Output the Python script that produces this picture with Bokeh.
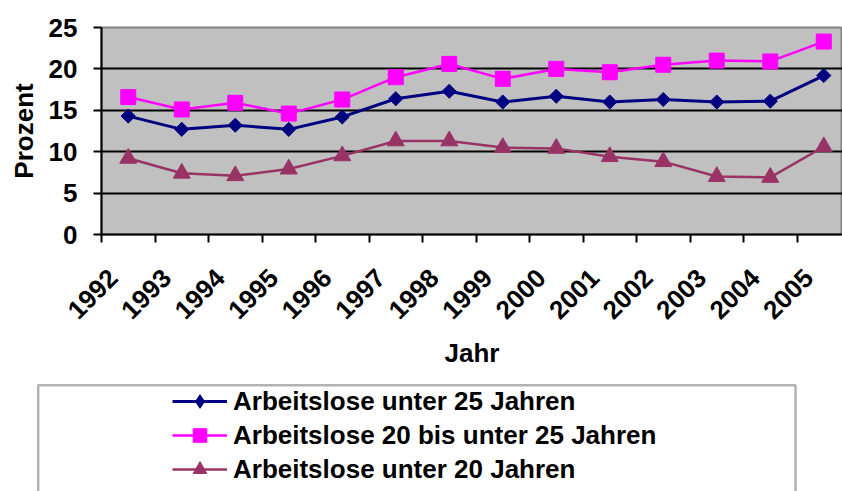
import math
from bokeh.plotting import figure
from bokeh.layouts import column
from bokeh.models import (Range1d, LinearAxis, FixedTicker, Legend, LegendItem,
                          BoxAnnotation)
from bokeh.embed import file_html
from bokeh.resources import INLINE

years = ["1992", "1993", "1994", "1995", "1996", "1997", "1998",
         "1999", "2000", "2001", "2002", "2003", "2004", "2005"]
unter25 = [14.3, 12.7, 13.2, 12.7, 14.2, 16.4, 17.3, 16.0, 16.7, 16.0, 16.3, 16.0, 16.1, 19.2]
von20bis25 = [16.6, 15.1, 15.9, 14.6, 16.3, 19.0, 20.6, 18.8, 20.0, 19.6, 20.5, 21.0, 20.9, 23.3]
unter20 = [9.2, 7.4, 7.1, 7.9, 9.5, 11.3, 11.3, 10.5, 10.4, 9.4, 8.8, 7.0, 6.9, 10.6]
y_ticks = [0, 5, 10, 15, 20, 25]
grid_ticks = [5, 10, 15, 20]
labels = ["Arbeitslose unter 25 Jahren",
          "Arbeitslose 20 bis unter 25 Jahren",
          "Arbeitslose unter 20 Jahren"]

FONT = "Liberation Sans"
FS = "26px"
NAVY = "#000080"
MAGENTA = "#FF00FF"
PLUM = "#993366"
n = len(years)
xs = [i + 0.5 for i in range(n)]
X_END = 13.85
LAB_SHIFT = 0.217

p = figure(width=842, height=380, output_backend="svg", toolbar_location=None,
           x_range=Range1d(0, X_END), y_range=Range1d(0, 25),
           x_axis_location=None,
           min_border_left=101, min_border_right=0, min_border_top=27,
           min_border_bottom=146,
           background_fill_color="#C0C0C0", border_fill_color="white",
           outline_line_color="#808080", outline_line_width=2)
p.frame_align = False

# y axis
ya = p.yaxis[0]
ya.ticker = FixedTicker(ticks=y_ticks)
ya.major_tick_out = 8
ya.major_tick_in = 0
ya.minor_tick_line_color = None
ya.axis_line_width = 2
ya.major_tick_line_width = 2
ya.axis_line_color = "black"
ya.major_tick_line_color = "black"
ya.major_label_text_font = FONT
ya.major_label_text_font_size = FS
ya.major_label_text_font_style = "bold"
ya.major_label_text_color = "black"
ya.major_label_standoff = 16
ya.axis_label = "Prozent"
ya.axis_label_text_font = FONT
ya.axis_label_text_font_size = FS
ya.axis_label_text_font_style = "bold"
ya.axis_label_text_color = "black"
ya.axis_label_standoff = 7

p.ygrid.ticker = FixedTicker(ticks=grid_ticks)
p.ygrid.grid_line_color = "black"
p.ygrid.grid_line_width = 2
p.xgrid.visible = False

# x axis: tick marks at category boundaries
tick_axis = LinearAxis(ticker=FixedTicker(ticks=list(range(n))),
                       major_label_overrides={i: "" for i in range(n)},
                       major_tick_out=8, major_tick_in=0,
                       major_tick_line_width=2, axis_line_width=2,
                       axis_line_color="black", major_tick_line_color="black",
                       minor_tick_line_color=None,
                       major_label_text_font_size="1px",
                       major_label_standoff=0)
p.add_layout(tick_axis, "below")

# x axis: year labels
p.extra_x_ranges = {"labels": Range1d(-LAB_SHIFT, X_END - LAB_SHIFT)}
label_axis = LinearAxis(x_range_name="labels",
                        ticker=FixedTicker(ticks=list(range(n))),
                        major_label_overrides={i: years[i] for i in range(n)},
                        major_label_orientation=math.pi / 4,
                        axis_line_color=None, major_tick_line_color=None,
                        minor_tick_line_color=None,
                        major_tick_out=0, major_tick_in=0,
                        major_label_standoff=31,
                        major_label_text_font=FONT,
                        major_label_text_font_size=FS,
                        major_label_text_font_style="bold",
                        major_label_text_color="black",
                        axis_label="Jahr",
                        axis_label_text_font=FONT,
                        axis_label_text_font_size=FS,
                        axis_label_text_font_style="bold",
                        axis_label_text_color="black",
                        axis_label_standoff=8)
p.add_layout(label_axis, "below")

# series
p.line(xs, unter25, line_color=NAVY, line_width=3)
p.scatter(xs, unter25, marker="square", angle=math.pi / 4, size=10,
          fill_color=NAVY, line_color=NAVY)
p.line(xs, von20bis25, line_color=MAGENTA, line_width=2.5)
p.scatter(xs, von20bis25, marker="square", size=15,
          fill_color=MAGENTA, line_color=MAGENTA)
p.line(xs, unter20, line_color=PLUM, line_width=2.5)
p.scatter(xs, unter20, marker="triangle", size=17,
          fill_color=PLUM, line_color=PLUM)

# legend panel below the chart (its y range lies far above the data, so the
# series renderers here only supply the legend samples)
p2 = figure(width=842, height=111, output_backend="svg", toolbar_location=None,
            x_range=Range1d(0, X_END), y_range=Range1d(100, 101),
            x_axis_location=None, y_axis_location=None,
            min_border_left=0, min_border_right=0, min_border_top=0,
            min_border_bottom=0, outline_line_color=None,
            background_fill_color="white", border_fill_color="white")
p2.frame_align = False
p2.xgrid.visible = False
p2.ygrid.visible = False

box = BoxAnnotation(left=37.7, right=795, top=4.7, bottom=300,
                    left_units="canvas", right_units="canvas",
                    top_units="canvas", bottom_units="canvas",
                    fill_alpha=0, line_color="black", line_width=2.5)
p2.add_layout(box)

g1l = p2.line(xs, unter25, line_color=NAVY, line_width=3)
g1m = p2.scatter(xs, unter25, marker="diamond", size=13,
                 fill_color=NAVY, line_color=NAVY)
g2l = p2.line(xs, von20bis25, line_color=MAGENTA, line_width=2.5)
g2m = p2.scatter(xs, von20bis25, marker="square", size=12,
                 fill_color=MAGENTA, line_color=MAGENTA)
g3l = p2.line(xs, unter20, line_color=PLUM, line_width=2.5)
g3m = p2.scatter(xs, unter20, marker="triangle", size=15,
                 fill_color=PLUM, line_color=PLUM)

legend = Legend(items=[LegendItem(label=labels[0], renderers=[g1l, g1m]),
                       LegendItem(label=labels[1], renderers=[g2l, g2m]),
                       LegendItem(label=labels[2], renderers=[g3l, g3m])],
                location=(172, 5), orientation="vertical",
                padding=0, margin=0, spacing=0,
                border_line_color=None, background_fill_alpha=0,
                glyph_width=55, glyph_height=34, label_height=34,
                label_standoff=6,
                label_text_font=FONT, label_text_font_size=FS,
                label_text_font_style="bold", label_text_color="black")
p2.add_layout(legend)

open("out.html", "w").write(file_html(column(p, p2, spacing=0), INLINE))
